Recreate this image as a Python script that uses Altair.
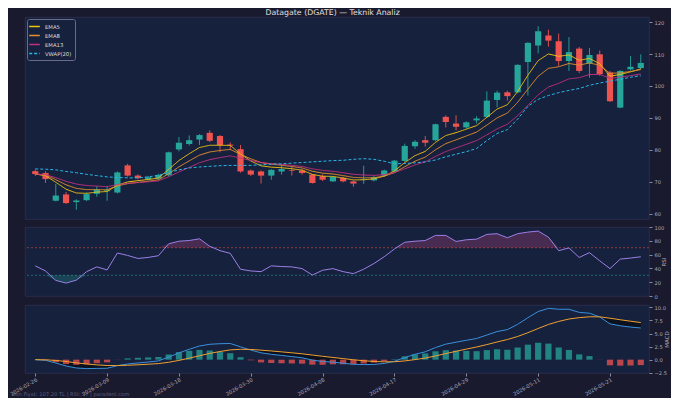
import altair as alt
import pandas as pd

# ---------------- data ----------------
tick_labels = ["2026-02-26", "2026-03-09", "2026-03-18", "2026-03-30", "2026-04-08",
               "2026-04-17", "2026-04-29", "2026-05-11", "2026-05-21"]

opens = [73.3, 72.7, 64.0, 66.0, 63.6, 64.2, 66.2, 67.0, 66.6, 75.1,
         71.9, 70.7, 71.0, 72.0, 80.1, 81.8, 83.2, 85.3, 84.3, 81.6,
         80.2, 73.5, 73.2, 71.9, 73.2, 73.6, 73.5, 72.2, 71.7, 70.1,
         71.2, 70.1, 70.5, 70.4, 71.9, 73.2, 76.5, 81.1, 83.0, 83.0,
         90.3, 88.2, 87.0, 89.2, 90.3, 95.6, 98.0, 98.0, 107.5, 112.7,
         115.8, 114.0, 107.8, 111.7, 107.0, 109.9, 104.2, 93.2, 105.2, 105.6]
highs = [73.8, 73.3, 69.3, 66.8, 64.5, 66.6, 68.6, 68.6, 73.2, 75.6,
         72.3, 71.8, 72.5, 79.4, 84.0, 84.5, 84.9, 86.1, 84.6, 82.3,
         81.5, 73.8, 73.5, 73.9, 75.3, 74.8, 74.0, 72.4, 72.3, 71.7,
         71.5, 70.3, 75.0, 71.8, 73.8, 76.8, 81.9, 83.0, 84.3, 88.2,
         90.8, 90.8, 88.9, 90.5, 98.3, 98.5, 98.5, 106.8, 113.7, 118.7,
         117.6, 116.4, 115.3, 112.2, 111.9, 111.1, 104.7, 104.9, 109.4, 109.9]
lows = [71.8, 69.6, 63.8, 63.0, 61.2, 63.9, 65.3, 64.0, 66.3, 71.6,
        70.7, 70.4, 70.6, 71.7, 79.5, 81.3, 81.5, 82.4, 79.2, 79.8,
        72.8, 71.8, 69.4, 70.6, 72.2, 71.9, 72.2, 69.4, 70.2, 69.9,
        69.8, 68.4, 69.3, 70.1, 71.6, 73.0, 76.2, 80.3, 81.0, 82.8,
        87.0, 86.1, 86.6, 88.2, 90.0, 93.3, 95.4, 97.7, 97.0, 110.2,
        112.3, 106.3, 104.7, 104.0, 102.6, 103.2, 95.0, 93.0, 104.8, 105.3]
closes = [72.4, 70.8, 65.7, 63.3, 64.1, 66.1, 67.5, 67.3, 72.9, 71.9,
          71.1, 71.4, 72.1, 79.2, 82.2, 83.0, 84.6, 82.8, 81.4, 81.3,
          73.2, 72.2, 71.9, 73.7, 74.0, 73.4, 72.7, 69.6, 70.6, 71.5,
          70.1, 69.4, 70.7, 71.4, 73.5, 76.6, 81.2, 82.5, 82.2, 88.0,
          88.7, 87.2, 88.6, 89.8, 95.4, 97.9, 96.8, 106.6, 113.5, 117.1,
          114.2, 107.8, 110.6, 104.7, 109.7, 103.7, 95.2, 104.7, 106.0, 107.2]

ema5 = [72.40, 71.87, 69.81, 67.64, 66.46, 66.34, 66.73, 66.92, 68.91, 69.91,
        70.31, 70.67, 71.15, 73.83, 76.62, 78.75, 80.70, 81.40, 81.40, 81.37,
        78.65, 76.50, 74.97, 74.55, 74.37, 74.05, 73.60, 72.27, 71.71, 71.64,
        71.13, 70.55, 70.60, 70.87, 71.75, 73.37, 75.98, 78.15, 79.50, 82.33,
        84.45, 85.37, 86.45, 87.57, 90.18, 92.75, 94.10, 98.27, 103.35, 107.93,
        110.02, 109.28, 109.72, 108.05, 108.60, 106.97, 103.05, 103.60, 104.40, 105.33]
ema8 = [72.40, 72.04, 70.63, 69.00, 67.91, 67.51, 67.51, 67.46, 68.67, 69.39,
        69.77, 70.13, 70.57, 72.49, 74.65, 76.51, 78.31, 79.31, 79.77, 80.11,
        78.57, 77.16, 75.99, 75.48, 75.15, 74.76, 74.30, 73.26, 72.67, 72.41,
        71.90, 71.34, 71.20, 71.24, 71.74, 72.82, 74.68, 76.42, 77.70, 79.99,
        81.93, 83.10, 84.32, 85.54, 87.73, 89.99, 91.50, 94.86, 99.00, 103.02,
        105.50, 106.01, 107.03, 106.51, 107.22, 106.44, 103.94, 104.11, 104.53, 105.12]
ema13 = [72.40, 72.17, 71.25, 70.11, 69.25, 68.80, 68.61, 68.42, 69.06, 69.47,
         69.70, 69.94, 70.25, 71.53, 73.05, 74.47, 75.92, 76.90, 77.54, 78.08,
         77.38, 76.64, 75.96, 75.64, 75.41, 75.12, 74.77, 74.03, 73.54, 73.25,
         72.80, 72.31, 72.08, 71.98, 72.20, 72.83, 74.03, 75.24, 76.23, 77.91,
         79.45, 80.56, 81.71, 82.87, 84.66, 86.55, 88.01, 90.67, 93.93, 97.24,
         99.66, 100.82, 102.22, 102.57, 103.59, 103.61, 102.41, 102.74, 103.20, 103.77]
vwap20 = [74.0, 73.9, 73.7, 73.2, 72.8, 72.3, 71.9, 71.5, 71.3, 71.2,
          71.2, 71.5, 72.0, 72.9, 73.7, 74.3, 74.6, 74.8, 75.0, 75.1,
          75.1, 75.1, 75.3, 75.5, 75.6, 75.8, 76.0, 76.2, 76.4, 76.6,
          76.7, 77.0, 77.2, 77.0, 76.4, 75.6, 75.7, 75.9, 76.2, 76.8,
          77.8, 78.6, 79.4, 80.4, 82.9, 85.1, 86.3, 89.6, 93.6, 95.8,
          97.0, 97.9, 98.6, 99.2, 100.2, 100.9, 101.5, 102.1, 102.7, 103.2]

rsi = [43.7, 36.3, 22.6, 18.7, 23.0, 35.3, 42.2, 37.8, 62.3, 58.8,
       54.4, 55.9, 58.4, 75.6, 79.4, 80.4, 82.9, 72.1, 65.7, 61.8,
       38.8, 36.3, 35.3, 43.7, 42.7, 42.2, 39.7, 30.4, 37.3, 39.7,
       35.3, 32.4, 38.8, 47.1, 56.9, 68.2, 77.9, 79.4, 80.4, 87.8,
       87.8, 79.0, 81.5, 82.4, 89.3, 90.3, 84.4, 90.3, 92.6, 94.1,
       85.3, 65.7, 69.7, 55.9, 62.8, 51.0, 39.7, 53.5, 55.0, 56.9]

macd = [0.00, -0.13, -0.63, -1.21, -1.59, -1.71, -1.67, -1.64, -1.14, -0.83,
        -0.63, -0.45, -0.24, 0.49, 1.29, 1.98, 2.61, 2.94, 3.05, 3.09,
        2.45, 1.83, 1.31, 1.02, 0.81, 0.59, 0.36, -0.08, -0.34, -0.47,
        -0.68, -0.89, -0.94, -0.91, -0.72, -0.30, 0.39, 1.03, 1.50, 2.31,
        2.97, 3.34, 3.70, 4.04, 4.71, 5.37, 5.75, 6.75, 8.02, 9.20,
        9.80, 9.64, 9.63, 9.04, 8.88, 8.17, 6.84, 6.48, 6.23, 6.06]
signal = [0.00, -0.03, -0.15, -0.36, -0.61, -0.83, -1.00, -1.12, -1.13, -1.07,
          -0.98, -0.87, -0.75, -0.50, -0.14, 0.28, 0.75, 1.19, 1.56, 1.87,
          1.98, 1.95, 1.82, 1.66, 1.49, 1.31, 1.12, 0.88, 0.64, 0.42,
          0.20, -0.02, -0.21, -0.35, -0.42, -0.40, -0.24, 0.01, 0.31, 0.71,
          1.16, 1.60, 2.02, 2.42, 2.88, 3.38, 3.85, 4.43, 5.15, 5.96,
          6.73, 7.31, 7.77, 8.03, 8.20, 8.19, 7.92, 7.63, 7.35, 7.09]
hist = [0.00, -0.10, -0.49, -0.85, -0.98, -0.88, -0.67, -0.51, -0.02, 0.24,
        0.35, 0.43, 0.51, 0.99, 1.44, 1.69, 1.87, 1.75, 1.49, 1.23,
        0.47, -0.12, -0.52, -0.64, -0.68, -0.72, -0.77, -0.96, -0.98, -0.89,
        -0.88, -0.87, -0.74, -0.57, -0.29, 0.09, 0.63, 1.02, 1.19, 1.60,
        1.81, 1.74, 1.68, 1.62, 1.83, 1.99, 1.89, 2.32, 2.87, 3.24,
        3.07, 2.33, 1.86, 1.01, 0.68, -0.02, -1.08, -1.15, -1.12, -1.04]

series_names = ["EMA5", "EMA8", "EMA13", "VWAP(20)"]
series_colors = ["#f1c40f", "#e8912a", "#c2307e", "#29b6e6"]
series_dash = [[1, 0], [1, 0], [1, 0], [3, 2]]

title_text = "Datagate (DGATE) \u2014 Teknik Analiz"
footer_text = "Son Fiyat: 107.20 TL  |  RSI: 57  |  paradeni.com"

# ---------------- styling ----------------
BG = "#1a1a2e"
PANEL = "#16213e"
EDGE = "#2e3050"
UP = "#26a69a"
DOWN = "#ef5350"
FONT = "DejaVu Sans"
W = 624
X_DOMAIN = [-1.0, 59.8]

n = len(closes)
idx = list(range(n))
df = pd.DataFrame({
    "i": idx, "open": opens, "high": highs, "low": lows, "close": closes,
    "rsi": rsi, "macd": macd, "signal": signal, "hist": hist,
})
long_df = pd.concat([
    pd.DataFrame({"i": idx, "value": vals, "series": name})
    for name, vals in zip(series_names, [ema5, ema8, ema13, vwap20])
], ignore_index=True)


def xenc(axis=None):
    return alt.X("i:Q", scale=alt.Scale(domain=X_DOMAIN, nice=False, zero=False, padding=0),
                 axis=axis)


candle_color = alt.condition("datum.close >= datum.open", alt.value(UP), alt.value(DOWN))

# ---------------- main panel ----------------
price_scale = alt.Scale(domain=[58.3, 121.6], nice=False, zero=False)
price_axis = alt.Axis(orient="right", values=[60, 70, 80, 90, 100, 110, 120], title=None)

wicks = alt.Chart(df).mark_rule(strokeWidth=0.9).encode(
    x=xenc(None),
    y=alt.Y("low:Q", scale=price_scale, axis=price_axis),
    y2="high:Q",
    color=candle_color,
)
bodies = alt.Chart(df).mark_bar(size=6.2).encode(
    x=xenc(None),
    y=alt.Y("open:Q", scale=price_scale, axis=price_axis),
    y2="close:Q",
    color=candle_color,
)
leg = alt.Legend(title=None, orient="top-left", offset=2)
lines = alt.Chart(long_df).mark_line(strokeWidth=1.0).encode(
    x=xenc(None),
    y=alt.Y("value:Q", scale=price_scale, axis=price_axis),
    color=alt.Color("series:N", scale=alt.Scale(domain=series_names, range=series_colors), legend=leg),
    strokeDash=alt.StrokeDash("series:N", scale=alt.Scale(domain=series_names, range=series_dash), legend=leg),
)
main = alt.layer(wicks, bodies, lines).properties(width=W, height=202)

# ---------------- RSI panel ----------------
rsi_scale = alt.Scale(domain=[0, 100], nice=False)
rsi_axis = alt.Axis(orient="right", values=[0, 20, 40, 60, 80, 100], title="RSI", titleAngle=270)
rsi_base = alt.Chart(df).transform_calculate(
    ob="max(datum.rsi, 70)", ob0="70", os="min(datum.rsi, 30)", os0="30"
)
ob_area = rsi_base.mark_area(color="#b0407a", opacity=0.32).encode(
    x=xenc(None), y=alt.Y("ob:Q", scale=rsi_scale, axis=rsi_axis), y2="ob0:Q")
os_area = rsi_base.mark_area(color=UP, opacity=0.28).encode(
    x=xenc(None), y=alt.Y("os:Q", scale=rsi_scale, axis=rsi_axis), y2="os0:Q")
levels = pd.DataFrame({"level": [70, 30], "kind": ["ob", "os"]})
level_rules = alt.Chart(levels).mark_rule(strokeDash=[2, 2], strokeWidth=0.8, opacity=0.7).encode(
    y=alt.Y("level:Q", scale=rsi_scale, axis=rsi_axis),
    color=alt.condition("datum.kind == 'ob'", alt.value("#e74c3c"), alt.value(UP)),
)
rsi_line = alt.Chart(df).mark_line(color="#9b7fe6", strokeWidth=1.0).encode(
    x=xenc(None), y=alt.Y("rsi:Q", scale=rsi_scale, axis=rsi_axis))
rsi_chart = alt.layer(ob_area, os_area, level_rules, rsi_line).properties(width=W, height=69)

# ---------------- MACD panel ----------------
macd_scale = alt.Scale(domain=[-2.55, 10.45], nice=False, zero=False)
macd_axis = alt.Axis(orient="right", values=[-2.5, 0, 2.5, 5, 7.5, 10], format=".1f",
                     title="MACD", titleAngle=270)
label_expr = "[" + ",".join("'%s'" % t for t in tick_labels) + "][round(datum.value / 7)]"
x_axis = alt.Axis(values=[7 * k for k in range(len(tick_labels))], labelExpr=label_expr,
                  labelAngle=-30, labelAlign="right", labelBaseline="top", title=None,
                  tickSize=3, labelPadding=1)

macd_base = alt.Chart(df).transform_calculate(
    lo="min(datum.macd, datum.signal)", zero="0"
)
gap_fill = macd_base.mark_area(color="#07070d", opacity=0.6).encode(
    x=xenc(x_axis), y=alt.Y("lo:Q", scale=macd_scale, axis=macd_axis), y2="signal:Q")
hist_bars = macd_base.mark_bar(size=6.2, opacity=0.75).encode(
    x=xenc(x_axis), y=alt.Y("hist:Q", scale=macd_scale, axis=macd_axis), y2="zero:Q",
    color=alt.condition("datum.hist >= 0", alt.value(UP), alt.value(DOWN)),
)
macd_line = alt.Chart(df).mark_line(color="#3a8fdc", strokeWidth=1.0).encode(
    x=xenc(x_axis), y=alt.Y("macd:Q", scale=macd_scale, axis=macd_axis))
signal_line = alt.Chart(df).mark_line(color="#f0a030", strokeWidth=1.0).encode(
    x=xenc(x_axis), y=alt.Y("signal:Q", scale=macd_scale, axis=macd_axis))
footer = alt.Chart(pd.DataFrame({"t": [footer_text]})).mark_text(
    align="left", baseline="middle", fontSize=5.2, color="#5c5c7a", font=FONT
).encode(x=alt.value(-13), y=alt.value(89), text="t:N")
macd_chart = alt.layer(gap_fill, hist_bars, macd_line, signal_line, footer).properties(width=W, height=68)

chart = alt.vconcat(main, rsi_chart, macd_chart, spacing=4).properties(
    title=alt.TitleParams(title_text, anchor="middle", fontSize=7.8, color="#e0e0e0",
                          font=FONT, fontWeight="normal", offset=0, dx=-7),
    background=BG,
    padding={"left": 0, "top": 0, "right": 0, "bottom": 0},
).configure_view(
    fill=PANEL, stroke=EDGE, strokeWidth=0.8
).configure_axis(
    labelColor="#a8a8b8", labelFontSize=5.2, labelFont=FONT, tickColor="#8a8a9a", tickSize=3,
    domain=False, grid=False, titleColor="#a8a8b8", titleFontSize=5.5, titleFont=FONT,
    titleFontWeight="normal", labelPadding=2, titlePadding=3,
).configure_legend(
    fillColor=PANEL, strokeColor="#6a6a8a", padding=3, cornerRadius=2,
    labelColor="#dddddd", labelFontSize=5.3, labelFont=FONT, symbolType="M-1.5,0H1.5",
    symbolSize=50, symbolStrokeWidth=1.4, rowPadding=1.0, labelOffset=6,
)

chart.save("out.html", embed_options={"renderer": "svg", "actions": False})
